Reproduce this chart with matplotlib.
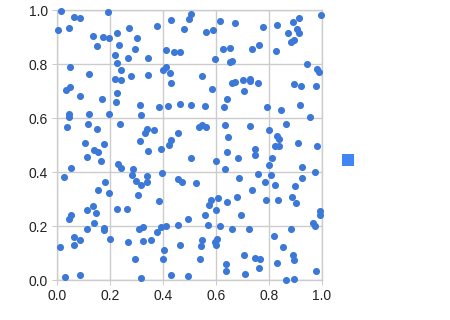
import matplotlib
matplotlib.use("Agg")
import matplotlib.pyplot as plt
from matplotlib.patches import Rectangle

x_values = [
    0.014, 0.191, 0.064, 0.087, 0.003, 0.044, 0.272, 0.301, 0.225, 0.135, 0.172, 0.196, 0.150, 0.234,
    0.293, 0.218, 0.268, 0.225, 0.048, 0.242, 0.120, 0.278, 0.218, 0.242, 0.049, 0.034, 0.225, 0.087,
    0.504, 0.497, 0.429, 0.376, 0.615, 0.478, 0.561, 0.588, 0.410, 0.440, 0.463, 0.342, 0.625, 0.652,
    0.595, 0.652, 0.659, 0.410, 0.399, 0.425, 0.342, 0.546, 0.429, 0.584, 0.384, 0.418, 0.557,
    0.671, 0.776, 0.829, 0.889, 0.912, 0.995, 0.871, 0.905, 0.912, 0.893, 0.882, 0.761, 0.735, 0.825,
    0.943, 0.980, 0.987, 0.660, 0.673, 0.701, 0.727, 0.727, 0.757, 0.705, 0.893, 0.920, 0.976, 0.791,
    0.169, 0.222, 0.044, 0.044, 0.120, 0.195, 0.037, 0.116, 0.150, 0.237, 0.105, 0.176, 0.312, 0.138,
    0.154, 0.112, 0.165, 0.052, 0.229, 0.240, 0.286, 0.026, 0.282, 0.297, 0.180, 0.154,
    0.463, 0.504, 0.313, 0.316, 0.640, 0.629, 0.341, 0.331, 0.365, 0.455, 0.537, 0.547, 0.561, 0.633,
    0.644, 0.429, 0.422, 0.391, 0.342, 0.504, 0.640, 0.599, 0.633, 0.396, 0.338, 0.338, 0.316, 0.455,
    0.470, 0.523,
    0.916, 0.844, 0.954, 0.727, 0.799, 0.863, 0.829, 0.837, 0.821, 0.837, 0.908, 0.980, 0.746, 0.746,
    0.682, 0.810, 0.799, 0.923, 0.972, 0.686, 0.757, 0.806, 0.784, 0.821, 0.923, 0.897, 0.735,
    0.195, 0.305, 0.052, 0.044, 0.112, 0.135, 0.146, 0.225, 0.263, 0.138, 0.112, 0.176, 0.176, 0.308,
    0.063, 0.086, 0.063, 0.010, 0.199, 0.267, 0.293, 0.029, 0.086,
    0.384, 0.323, 0.376, 0.391, 0.410, 0.455, 0.493, 0.323, 0.354, 0.403, 0.399, 0.463, 0.316, 0.429,
    0.493, 0.580, 0.572, 0.606, 0.599, 0.640, 0.557, 0.569, 0.614, 0.659, 0.546, 0.542, 0.595, 0.603,
    0.599, 0.538, 0.637, 0.637,
    0.678, 0.788, 0.833, 0.886, 0.901, 0.693, 0.991, 0.991, 0.965, 0.972, 0.723, 0.882, 0.818, 0.852,
    0.705, 0.746, 0.765, 0.889, 0.893, 0.829, 0.761, 0.976, 0.708, 0.863, 0.893,
]
y_values = [
    0.997, 0.993, 0.975, 0.971, 0.926, 0.934, 0.934, 0.897, 0.916, 0.905, 0.901, 0.897, 0.868, 0.871,
    0.857, 0.834, 0.823, 0.805, 0.790, 0.779, 0.764, 0.757, 0.746, 0.742, 0.716, 0.705, 0.694, 0.683,
    0.985, 0.968, 0.964, 0.942, 0.960, 0.931, 0.920, 0.927, 0.853, 0.846, 0.846, 0.823, 0.857, 0.860,
    0.820, 0.809, 0.812, 0.790, 0.779, 0.768, 0.760, 0.757, 0.731, 0.708, 0.642, 0.646, 0.646,
    0.953, 0.938, 0.946, 0.957, 0.971, 0.983, 0.916, 0.931, 0.916, 0.890, 0.883, 0.871, 0.857, 0.849,
    0.801, 0.783, 0.772, 0.731, 0.734, 0.742, 0.746, 0.738, 0.731, 0.701, 0.727, 0.720, 0.720, 0.642,
    0.671, 0.660, 0.616, 0.605, 0.616, 0.616, 0.568, 0.579, 0.560, 0.579, 0.508, 0.505, 0.516, 0.483,
    0.475, 0.457, 0.442, 0.416, 0.431, 0.416, 0.412, 0.383, 0.390, 0.368, 0.364, 0.334,
    0.653, 0.649, 0.649, 0.612, 0.671, 0.642, 0.560, 0.546, 0.557, 0.546, 0.568, 0.573, 0.568, 0.575,
    0.531, 0.520, 0.501, 0.486, 0.479, 0.453, 0.475, 0.442, 0.412, 0.397, 0.386, 0.364, 0.353, 0.375,
    0.364, 0.360,
    0.649, 0.631, 0.605, 0.571, 0.557, 0.579, 0.534, 0.523, 0.497, 0.497, 0.508, 0.497, 0.486, 0.464,
    0.453, 0.453, 0.427, 0.420, 0.401, 0.379, 0.394, 0.390, 0.364, 0.353, 0.379, 0.349, 0.334,
    0.323, 0.316, 0.242, 0.227, 0.260, 0.275, 0.249, 0.264, 0.264, 0.212, 0.190, 0.194, 0.186, 0.190,
    0.160, 0.149, 0.131, 0.123, 0.153, 0.142, 0.079, 0.012, 0.020,
    0.294, 0.197, 0.179, 0.197, 0.201, 0.205, 0.227, 0.146, 0.149, 0.112, 0.079, 0.131, 0.009, 0.020,
    0.016, 0.297, 0.279, 0.305, 0.260, 0.290, 0.242, 0.205, 0.201, 0.190, 0.149, 0.127, 0.142, 0.153,
    0.131, 0.079, 0.060, 0.034,
    0.309, 0.297, 0.297, 0.309, 0.286, 0.242, 0.257, 0.242, 0.212, 0.201, 0.190, 0.190, 0.164, 0.123,
    0.094, 0.083, 0.079, 0.094, 0.075, 0.064, 0.046, 0.034, 0.023, 0.001, 0.005,
]
tick_values = [0.0, 0.2, 0.4, 0.6, 0.8, 1.0]
tick_labels = ["0.0", "0.2", "0.4", "0.6", "0.8", "1.0"]

plt.rcParams['font.family'] = ['Liberation Sans', 'DejaVu Sans']

W, H = 450, 320
fig = plt.figure(figsize=(W / 100, H / 100), dpi=100)
ax = fig.add_axes([57 / W, (H - 280) / H, 265 / W, 270 / H])

grid_color = '#cccccc'
ax.set_xlim(0, 1)
ax.set_ylim(0, 1)
ax.set_xticks(tick_values)
ax.set_yticks(tick_values)
ax.set_xticklabels(tick_labels)
ax.set_yticklabels(tick_labels)
ax.grid(True, color=grid_color, linewidth=1)
ax.set_axisbelow(True)
for s in ax.spines.values():
    s.set_color(grid_color)
    s.set_linewidth(1)
ax.tick_params(axis='both', length=3.6, width=0.75, color=grid_color,
               labelcolor='#222222', labelsize=10)
ax.tick_params(axis='x', pad=3)
ax.tick_params(axis='y', pad=3)

ax.scatter(x_values, y_values, s=26, color='#3c78d8', linewidths=0,
           clip_on=False, zorder=3)

fig.add_artist(Rectangle((342 / W, (H - 166) / H), 12 / W, 12 / H,
                         transform=fig.transFigure, color='#4285f4', lw=0))

fig.savefig('out.png', dpi=100)
